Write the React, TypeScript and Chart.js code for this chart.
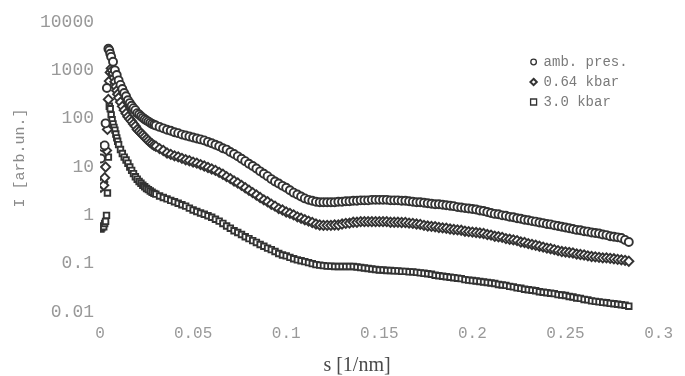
import React, { useEffect, useRef } from 'react';
import { Chart, registerables } from 'chart.js';
Chart.register(...registerables);

const xTickValues = [0, 0.05, 0.1, 0.15, 0.2, 0.25, 0.3];
const xTickLabels = ['0', '0.05', '0.1', '0.15', '0.2', '0.25', '0.3'];
const yTickValues = [0.01, 0.1, 1, 10, 100, 1000, 10000];
const yTickLabels = ['0.01', '0.1', '1', '10', '100', '1000', '10000'];
const seriesNames = ['amb. pres.', '0.64 kbar', '3.0 kbar'];
const xTitle = 's [1/nm]';
const yTitle = 'I [arb.un.]';

// shared s grid for s >= 0.03
const sGrid = [
  0.030, 0.032, 0.034, 0.036, 0.038, 0.040, 0.042, 0.044, 0.046, 0.048,
  0.050, 0.052, 0.054, 0.056, 0.058, 0.060, 0.062, 0.064, 0.066, 0.068,
  0.070, 0.072, 0.074, 0.076, 0.078, 0.080, 0.082, 0.084, 0.086, 0.088,
  0.090, 0.092, 0.094, 0.096, 0.098, 0.100, 0.102, 0.104, 0.106, 0.108,
  0.110, 0.112, 0.114, 0.116, 0.118, 0.120, 0.122, 0.124, 0.126, 0.128,
  0.130, 0.132, 0.134, 0.136, 0.138, 0.140, 0.142, 0.144, 0.146, 0.148,
  0.150, 0.152, 0.154, 0.156, 0.158, 0.160, 0.162, 0.164, 0.166, 0.168,
  0.170, 0.172, 0.174, 0.176, 0.178, 0.180, 0.182, 0.184, 0.186, 0.188,
  0.190, 0.192, 0.194, 0.196, 0.198, 0.200, 0.202, 0.204, 0.206, 0.208,
  0.210, 0.212, 0.214, 0.216, 0.218, 0.220, 0.222, 0.224, 0.226, 0.228,
  0.230, 0.232, 0.234, 0.236, 0.238, 0.240, 0.242, 0.244, 0.246, 0.248,
  0.250, 0.252, 0.254, 0.256, 0.258, 0.260, 0.262, 0.264, 0.266, 0.268,
  0.270, 0.272, 0.274, 0.276, 0.278, 0.280, 0.282, 0.284,
];

// amb. pres. (circles)
const ambEarlyS = [0.0005, 0.0015, 0.0025, 0.003, 0.0037, 0.0045, 0.005, 0.0055, 0.006, 0.007,
  0.008, 0.009, 0.010, 0.011, 0.012, 0.013, 0.014, 0.015, 0.016, 0.017,
  0.018, 0.019, 0.020, 0.021, 0.022, 0.023, 0.024, 0.025, 0.026, 0.027, 0.028, 0.029];
const ambEarlyI = [15, 26, 28, 80, 430, 2800, 2600, 2200, 1900, 1500,
  1000, 800, 620, 500, 410, 340, 290, 240, 210, 185,
  165, 150, 130, 122, 112, 104, 97, 92, 87, 82, 78, 75];
const ambI = [
  72.4, 67.6, 63.1, 58.9, 56.2, 52.5, 50.1, 46.8, 44.7, 42.7,
  40.7, 38.9, 37.2, 35.5, 33.1, 30.9, 28.8, 26.9, 24.5, 22.9,
  20.4, 18.6, 16.6, 14.8, 13.2, 11.7, 10.5, 9.33, 8.13, 7.24,
  6.46, 5.62, 5.01, 4.57, 4.07, 3.72, 3.31, 2.95, 2.69, 2.45,
  2.24, 2.09, 2.0, 1.91, 1.86, 1.86, 1.86, 1.86, 1.86, 1.91,
  1.91, 1.95, 1.95, 2.0, 2.0, 2.04, 2.04, 2.04, 2.09, 2.09,
  2.09, 2.09, 2.09, 2.04, 2.04, 2.04, 2.0, 2.0, 1.95, 1.91,
  1.86, 1.86, 1.82, 1.78, 1.74, 1.70, 1.70, 1.66, 1.62, 1.58,
  1.55, 1.48, 1.45, 1.41, 1.38, 1.35, 1.32, 1.26, 1.23, 1.17,
  1.12, 1.07, 1.05, 1.0, 0.98, 0.93, 0.91, 0.87, 0.85, 0.81,
  0.79, 0.76, 0.74, 0.71, 0.69, 0.66, 0.65, 0.62, 0.60, 0.58,
  0.56, 0.54, 0.52, 0.50, 0.49, 0.47, 0.46, 0.44, 0.43, 0.42,
  0.40, 0.39, 0.37, 0.36, 0.35, 0.34, 0.31, 0.28,
];

// 0.64 kbar (diamonds)
const p064EarlyS = [0.0005, 0.001, 0.0015, 0.002, 0.0025, 0.003, 0.0035, 0.004, 0.0045, 0.005,
  0.0055, 0.006, 0.0065, 0.007, 0.0075, 0.008, 0.0085, 0.009, 0.0095, 0.010,
  0.011, 0.012, 0.013, 0.014, 0.015, 0.016, 0.017, 0.018, 0.019, 0.020,
  0.021, 0.022, 0.023, 0.024, 0.025, 0.026, 0.027, 0.028, 0.029];
const p064EarlyI = [3.8, 4.5, 4.9, 4.2, 6, 10, 22, 60, 250, 600,
  900, 1100, 1000, 850, 700, 580, 460, 380, 320, 270,
  220, 180, 150, 128, 110, 98, 88, 78, 70, 60,
  55, 50, 46, 42, 38, 35, 32, 30, 28];
const p064I = [
  26.9, 24.0, 21.9, 19.5, 18.2, 17.0, 16.2, 15.1, 14.1, 13.5,
  12.6, 12.0, 11.2, 10.5, 9.77, 9.12, 8.51, 7.76, 7.08, 6.31,
  5.75, 5.13, 4.68, 4.17, 3.72, 3.31, 2.95, 2.63, 2.34, 2.09,
  1.91, 1.70, 1.55, 1.38, 1.29, 1.17, 1.10, 1.02, 0.93, 0.87,
  0.81, 0.76, 0.71, 0.66, 0.63, 0.62, 0.62, 0.62, 0.63, 0.63,
  0.66, 0.68, 0.69, 0.72, 0.72, 0.74, 0.74, 0.74, 0.74, 0.74,
  0.74, 0.74, 0.74, 0.72, 0.72, 0.72, 0.71, 0.71, 0.69, 0.68,
  0.66, 0.65, 0.62, 0.60, 0.59, 0.58, 0.56, 0.55, 0.54, 0.52,
  0.51, 0.50, 0.49, 0.47, 0.46, 0.45, 0.44, 0.43, 0.42, 0.40,
  0.39, 0.37, 0.36, 0.35, 0.33, 0.32, 0.31, 0.30, 0.28, 0.275,
  0.26, 0.25, 0.24, 0.23, 0.22, 0.21, 0.204, 0.195, 0.186, 0.178,
  0.174, 0.170, 0.166, 0.158, 0.155, 0.151, 0.145, 0.141, 0.138, 0.135,
  0.132, 0.132, 0.129, 0.126, 0.123, 0.120, 0.117, 0.112,
];

// 3.0 kbar (squares)
const p30EarlyS = [0.0005, 0.001, 0.0015, 0.002, 0.0025, 0.003, 0.0035, 0.004, 0.0045, 0.005,
  0.0055, 0.006, 0.0065, 0.007, 0.0075, 0.008, 0.0085, 0.009, 0.0095, 0.010,
  0.011, 0.012, 0.013, 0.014, 0.015, 0.016, 0.017, 0.018, 0.019, 0.020,
  0.021, 0.022, 0.023, 0.024, 0.025, 0.026, 0.027, 0.028, 0.029];
const p30EarlyI = [0.52, 0.55, 0.6, 0.58, 0.68, 0.75, 1.0, 2.9, 16, 180,
  160, 120, 95, 78, 66, 58, 48, 40, 34, 29,
  23, 19, 16, 14, 12, 10, 8.5, 7.3, 6.3, 5.6,
  5.0, 4.6, 4.2, 3.9, 3.6, 3.4, 3.2, 3.0, 2.85];
const p30I = [
  2.75, 2.51, 2.34, 2.19, 2.04, 1.91, 1.78, 1.66, 1.55, 1.41,
  1.29, 1.20, 1.12, 1.05, 0.98, 0.91, 0.83, 0.76, 0.68, 0.60,
  0.54, 0.48, 0.44, 0.40, 0.36, 0.33, 0.30, 0.275, 0.25, 0.23,
  0.21, 0.195, 0.178, 0.162, 0.151, 0.145, 0.135, 0.126, 0.120, 0.115,
  0.110, 0.105, 0.100, 0.0955, 0.0933, 0.0912, 0.0891, 0.0891, 0.0871, 0.0871,
  0.0871, 0.0871, 0.0871, 0.0871, 0.0851, 0.0832, 0.0813, 0.0794, 0.0776, 0.0759,
  0.0741, 0.0741, 0.0724, 0.0724, 0.0708, 0.0708, 0.0692, 0.0692, 0.0676, 0.0676,
  0.0661, 0.0646, 0.0631, 0.0617, 0.0603, 0.0575, 0.0562, 0.0550, 0.0537, 0.0525,
  0.0513, 0.0501, 0.0490, 0.0468, 0.0457, 0.0447, 0.0437, 0.0427, 0.0417, 0.0407,
  0.0398, 0.0389, 0.0372, 0.0363, 0.0355, 0.0339, 0.0331, 0.0316, 0.0309, 0.0295,
  0.0288, 0.0282, 0.0275, 0.0263, 0.0257, 0.0251, 0.0245, 0.0240, 0.0229, 0.0224,
  0.0219, 0.0209, 0.0204, 0.0195, 0.0191, 0.0182, 0.0178, 0.0170, 0.0166, 0.0162,
  0.0158, 0.0155, 0.0151, 0.0148, 0.0145, 0.0141, 0.0138, 0.0132,
];

const markerColor = '#333333';
const tickColor = '#999999';

function toPoints(earlyS: number[], earlyI: number[], grid: number[], vals: number[]) {
  const a = earlyS.map((s, i) => ({ x: s, y: earlyI[i] }));
  const b = grid.map((s, i) => ({ x: s, y: vals[i] }));
  return a.concat(b);
}

const pointStyles = ['circle', 'rectRot', 'rect'];
const pointRadii = [4, 4.6, 3.9];

const overlayPlugin = {
  id: 'overlay',
  afterDraw(chart: any) {
    const ctx = chart.ctx as CanvasRenderingContext2D;
    const { left, right, top, bottom } = chart.chartArea;
    ctx.save();
    // x title
    ctx.font = '20px "Liberation Serif"';
    ctx.fillStyle = '#4a4a4a';
    ctx.textAlign = 'center';
    ctx.textBaseline = 'middle';
    ctx.fillText(xTitle, left + 257, bottom + 54);
    // y title
    ctx.save();
    ctx.translate(left - 80, top + 136);
    ctx.rotate(-Math.PI / 2);
    ctx.font = '15px "Liberation Mono"';
    ctx.fillStyle = '#8a8a8a';
    ctx.fillText(yTitle, 0, 0);
    ctx.restore();
    // legend
    const lx = right - 125;
    const ly0 = top + 40;
    ctx.font = '14px "Liberation Mono"';
    ctx.textAlign = 'left';
    seriesNames.forEach((name, i) => {
      const y = ly0 + i * 20;
      ctx.save();
      ctx.strokeStyle = markerColor;
      ctx.fillStyle = '#ffffff';
      ctx.lineWidth = i === 1 ? 2 : 1.3;
      ctx.beginPath();
      if (i === 0) {
        ctx.arc(lx, y, 2.8, 0, Math.PI * 2);
      } else if (i === 1) {
        ctx.moveTo(lx, y - 3.2);
        ctx.lineTo(lx + 3.2, y);
        ctx.lineTo(lx, y + 3.2);
        ctx.lineTo(lx - 3.2, y);
        ctx.closePath();
      } else {
        ctx.rect(lx - 3, y - 3, 6, 6);
      }
      ctx.fill();
      ctx.stroke();
      ctx.restore();
      ctx.fillStyle = '#7a7a7a';
      ctx.fillText(name, lx + 10, y);
    });
    ctx.restore();
  },
};

export default function App() {
  const ref = useRef<HTMLCanvasElement | null>(null);
  useEffect(() => {
    if (!ref.current) return;
    const series = [
      toPoints(ambEarlyS, ambEarlyI, sGrid, ambI),
      toPoints(p064EarlyS, p064EarlyI, sGrid, p064I),
      toPoints(p30EarlyS, p30EarlyI, sGrid, p30I),
    ];
    const chart = new Chart(ref.current, {
      type: 'scatter',
      data: {
        datasets: series.map((d, i) => ({
          label: seriesNames[i],
          data: d,
          pointStyle: pointStyles[i],
          pointRadius: pointRadii[i],
          pointBorderWidth: 1.9,
          pointBackgroundColor: '#ffffff',
          pointBorderColor: markerColor,
          showLine: false,
        })),
      },
      options: {
        responsive: false,
        animation: false,
        layout: { padding: { left: 0, top: 22, right: 20, bottom: 0 } },
        plugins: { legend: { display: false }, tooltip: { enabled: false } },
        scales: {
          x: {
            type: 'linear',
            min: 0,
            max: 0.3,
            grid: { display: false, drawTicks: false },
            border: { display: false },
            afterBuildTicks: (scale: any) => {
              scale.ticks = xTickValues.map((v) => ({ value: v }));
            },
            afterFit: (scale: any) => {
              scale.height = 64;
            },
            ticks: {
              autoSkip: false,
              maxRotation: 0,
              padding: 12,
              color: tickColor,
              font: { family: '"Liberation Mono"', size: 16 },
              callback: (v: any, i: number) => xTickLabels[i],
            },
          },
          y: {
            type: 'logarithmic',
            min: 0.01,
            max: 10000,
            grid: { display: false, drawTicks: false },
            border: { display: false },
            afterBuildTicks: (scale: any) => {
              scale.ticks = yTickValues.map((v) => ({ value: v }));
            },
            afterFit: (scale: any) => {
              scale.width = 100;
            },
            ticks: {
              autoSkip: false,
              padding: 6,
              color: tickColor,
              font: { family: '"Liberation Mono"', size: 18 },
              callback: (v: any, i: number) => yTickLabels[i],
            },
          },
        },
      },
      plugins: [overlayPlugin],
    } as any);
    return () => chart.destroy();
  }, []);
  return (
    <div style={{ position: 'absolute', left: 0, top: 0, width: 685, height: 376, background: '#fff' }}>
      <canvas ref={ref} width={685} height={376} style={{ display: 'block' }} />
    </div>
  );
}
